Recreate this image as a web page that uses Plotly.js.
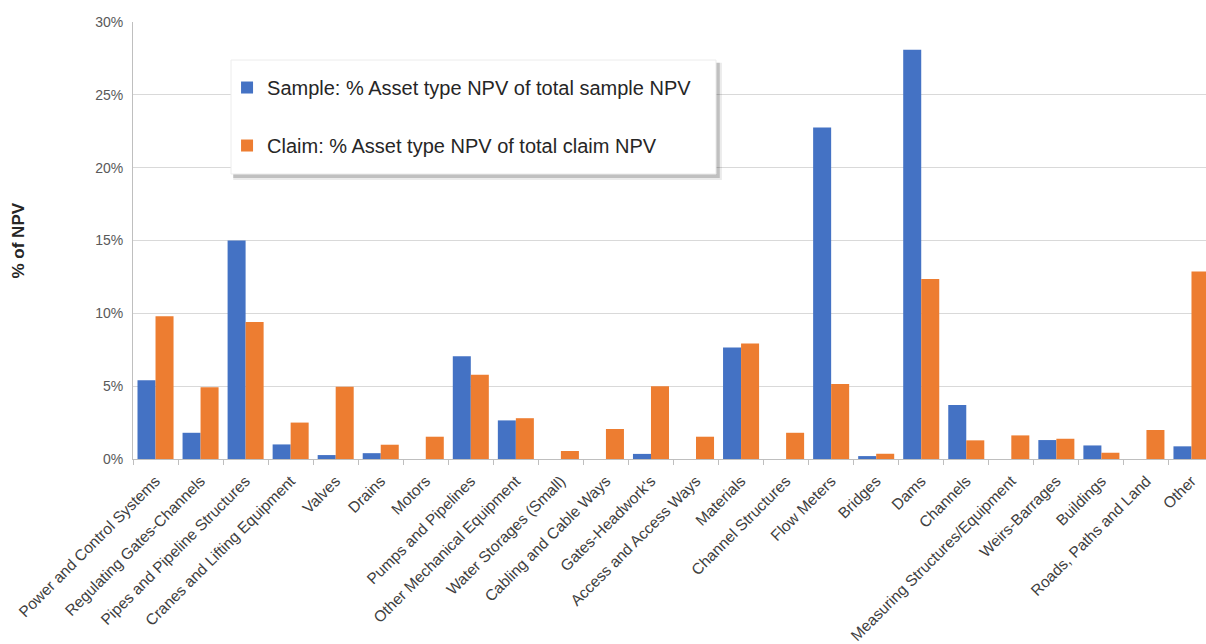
<!DOCTYPE html>
<html>
<head>
<meta charset="utf-8">
<script src="https://cdn.plot.ly/plotly-3.0.1.min.js"></script>
<style>
  html, body { margin: 0; padding: 0; overflow: hidden; background: #fff; }
  #plotArea { width: 1220px; height: 644px; }
</style>
</head>
<body>
<div id="plotArea"></div>
<script>
// asset types along the x axis
var assetTypes = [
    "Power and Control Systems", "Regulating Gates-Channels", "Pipes and Pipeline Structures",
    "Cranes and Lifting Equipment", "Valves", "Drains", "Motors", "Pumps and Pipelines",
    "Other Mechanical Equipment", "Water Storages (Small)", "Cabling and Cable Ways",
    "Gates-Headwork's", "Access and Access Ways", "Materials", "Channel Structures",
    "Flow Meters", "Bridges", "Dams", "Channels", "Measuring Structures/Equipment",
    "Weirs-Barrages", "Buildings", "Roads, Paths and Land", "Other"
];

// % of NPV
var samplePct = [5.4, 1.8, 15.0, 1.0, 0.27, 0.4, 0, 7.05, 2.65, 0, 0, 0.35,
                 0, 7.65, 0, 22.75, 0.2, 28.1, 3.7, 0, 1.3, 0.93, 0, 0.87];
var claimPct  = [9.8, 4.92, 9.4, 2.5, 4.96, 0.98, 1.53, 5.78, 2.8, 0.55, 2.06, 5.0,
                 1.53, 7.93, 1.8, 5.15, 0.36, 12.35, 1.28, 1.62, 1.39, 0.43, 1.99, 12.87];

var yTicks = [0, 5, 10, 15, 20, 25, 30];
var yTickText = yTicks.map(v => v + "%");

var sample = {
    x: assetTypes,
    y: samplePct,
    type: "bar",
    name: "Sample: % Asset type NPV of total sample NPV",
    legendgroup: "a",
    marker: {color: "#4472C4"},
    hoverinfo: "x+y"
};

var claim = {
    x: assetTypes,
    y: claimPct,
    type: "bar",
    name: "Claim: % Asset type NPV of total claim NPV",
    legendgroup: "b",
    marker: {color: "#ED7D31"},
    hoverinfo: "x+y"
};

// legend box drawn as shapes (paper coords), the legend itself sits on top
var box = {x0: 0.0907, x1: 0.5393, y0: 0.6522, y1: 0.913};

var layout = {
    width: 1220,
    height: 644,
    margin: {l: 133, r: 6, t: 22, b: 185},
    paper_bgcolor: "#fff",
    plot_bgcolor: "#fff",
    font: {family: "Liberation Sans, Arial, sans-serif", color: "#404040"},
    barmode: "group",
    bargap: 0.2,
    bargroupgap: 0,
    showlegend: true,
    legend: {
        x: 0.087, y: 0.8947, xanchor: "left", yanchor: "top",
        bgcolor: "rgba(0,0,0,0)", borderwidth: 0,
        font: {size: 20, color: "#262626"},
        traceorder: "grouped",
        tracegroupgap: 29
    },
    xaxis: {
        type: "category",
        tickangle: -45,
        tickson: "boundaries",
        ticks: "outside",
        ticklen: 5,
        tickcolor: "#bfbfbf",
        ticklabelstandoff: 6,
        showline: true,
        linecolor: "#bfbfbf",
        showgrid: false,
        tickfont: {size: 15.5, color: "#404040"},
        fixedrange: true
    },
    yaxis: {
        range: [0, 30],
        tickvals: yTicks,
        ticktext: yTickText,
        showline: true,
        linecolor: "#bfbfbf",
        gridcolor: "#d9d9d9",
        zeroline: false,
        ticks: "",
        ticklabelstandoff: 6,
        tickfont: {size: 14, color: "#595959"},
        fixedrange: true
    },
    shapes: [
        {   // soft shadow, outer
            type: "rect", xref: "paper", yref: "paper",
            x0: box.x0 + 0.002, x1: box.x1 + 0.0055, y0: box.y0 - 0.014, y1: box.y1 - 0.006,
            fillcolor: "rgba(0,0,0,0.08)", line: {width: 0}, layer: "above"
        },
        {   // soft shadow, inner
            type: "rect", xref: "paper", yref: "paper",
            x0: box.x0 + 0.002, x1: box.x1 + 0.0035, y0: box.y0 - 0.009, y1: box.y1 - 0.006,
            fillcolor: "rgba(0,0,0,0.18)", line: {width: 0}, layer: "above"
        },
        {   // legend background
            type: "rect", xref: "paper", yref: "paper",
            x0: box.x0, x1: box.x1, y0: box.y0, y1: box.y1,
            fillcolor: "#fff", line: {color: "#ececec", width: 1}, layer: "above"
        }
    ],
    annotations: [{
        text: "<b>% of NPV</b>",
        xref: "paper", yref: "paper",
        x: 0, y: 0.5,
        xshift: -115,
        xanchor: "center", yanchor: "middle",
        textangle: -90,
        showarrow: false,
        font: {size: 17, color: "#262626"}
    }]
};

Plotly.newPlot("plotArea", [sample, claim], layout, {displayModeBar: false});
</script>
</body>
</html>
